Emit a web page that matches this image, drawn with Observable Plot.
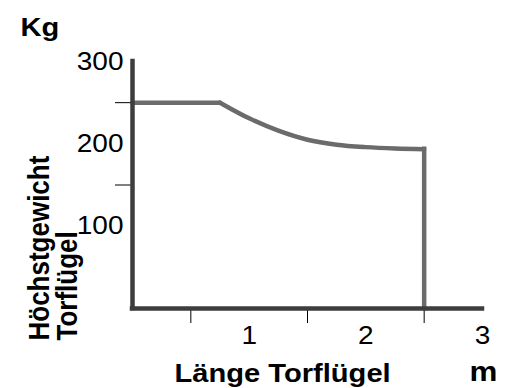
<!DOCTYPE html>
<html>
<head>
<meta charset="utf-8">
<script src="https://cdn.jsdelivr.net/npm/d3@7"></script>
<script src="https://cdn.jsdelivr.net/npm/@observablehq/plot@0.6"></script>
<style>
  html, body { margin: 0; padding: 0; background: #fff; }
</style>
</head>
<body>
<div id="chart"></div>
<script>
// Maximum gate-leaf weight (kg) by gate-leaf length (m)
const lengths = [0, 0.75, 1.0, 1.25, 1.5, 1.75, 2.0, 2.25, 2.5];
const weights = [250, 250, 231, 216, 205, 199, 196, 194.3, 193.4];
const plateauEnd = 0.75;   // weight stays constant up to this length
const maxLength = 2.5;     // longest permitted leaf

// Axis labels sit on whole values, short tick marks sit halfway between them
const xLabelTicks = [1, 2, 3];
const xMarkTicks = [0.5, 1.5, 2.5];
const yLabelTicks = [100, 200, 300];
const yMarkTicks = [150, 250];

const yUnit = "Kg";
const xUnit = "m";
const yTitle = "Höchstgewicht\nTorflügel";
const xTitle = "Länge Torflügel";

const curve = lengths.map((x, i) => ({length: x, weight: weights[i]}));
const plateau = curve.filter(d => d.length <= plateauEnd);
const decline = curve.filter(d => d.length >= plateauEnd);
const limit = curve.filter(d => d.length === maxLength);

const font = "'Liberation Sans', Arial, Helvetica, sans-serif";
const axisColor = "#3d3d3d";
const lineStyle = {stroke: "#6b6b6b", strokeWidth: 4.5};

const plot = Plot.plot({
  width: 515,
  height: 388,
  marginLeft: 132,
  marginRight: 33,
  marginTop: 61,
  marginBottom: 80,
  style: {fontFamily: font, color: "#000", background: "#fff", overflow: "visible"},
  x: {domain: [0, 3], label: null},
  y: {domain: [0, 300], label: null},
  marks: [
    Plot.line(plateau, {x: "length", y: "weight", ...lineStyle, strokeLinecap: "round"}),
    Plot.line(decline, {x: "length", y: "weight", ...lineStyle, curve: "monotone-x", strokeLinecap: "round"}),
    Plot.ruleX(limit, {x: "length", y1: 0, y2: "weight", ...lineStyle, strokeLinecap: "square"}),
    Plot.axisY({ticks: yMarkTicks, tickSize: 17, tickFormat: () => "", label: null}),
    Plot.axisY({ticks: yLabelTicks, tickSize: 0, tickPadding: 9, fontSize: 25, tickFormat: d => String(d), label: null}),
    Plot.axisX({ticks: xMarkTicks, tickSize: 15, tickFormat: () => "", label: null}),
    Plot.axisX({ticks: xLabelTicks, tickSize: 0, tickPadding: 18, fontSize: 25, tickFormat: d => String(d), label: null}),
    Plot.ruleX([0], {stroke: axisColor, strokeWidth: 4.5, strokeLinecap: "square"}),
    Plot.ruleY([0], {stroke: axisColor, strokeWidth: 4.5, strokeLinecap: "square"}),
    Plot.text([yUnit], {
      text: d => d, frameAnchor: "top-left", dx: -112, dy: -26,
      textAnchor: "start", lineAnchor: "bottom", fontSize: 26, fontWeight: "bold"
    }),
    Plot.text([yTitle], {
      text: d => d, frameAnchor: "top-left", dx: -56, dy: 279, rotate: -90,
      textAnchor: "start", lineAnchor: "bottom", lineHeight: 0.92,
      fontSize: 26, fontWeight: "bold"
    }),
    Plot.text([xTitle], {
      text: d => d, frameAnchor: "bottom-left", dx: 42, dy: 73,
      textAnchor: "start", lineAnchor: "bottom", fontSize: 26, fontWeight: "bold"
    }),
    Plot.text([xUnit], {
      text: d => d, frameAnchor: "bottom-right", dx: 1, dy: 72,
      textAnchor: "middle", lineAnchor: "bottom", fontSize: 28, fontWeight: "bold"
    })
  ]
});

// The lettering is set slightly wide: stretch each label horizontally about its anchor
plot.querySelectorAll("text").forEach(t => {
  const tr = t.getAttribute("transform") || "";
  t.setAttribute("transform", tr + (tr.includes("rotate") ? " scale(1,1.13)" : " scale(1.12,1)"));
});

document.getElementById("chart").append(plot);
</script>
</body>
</html>
